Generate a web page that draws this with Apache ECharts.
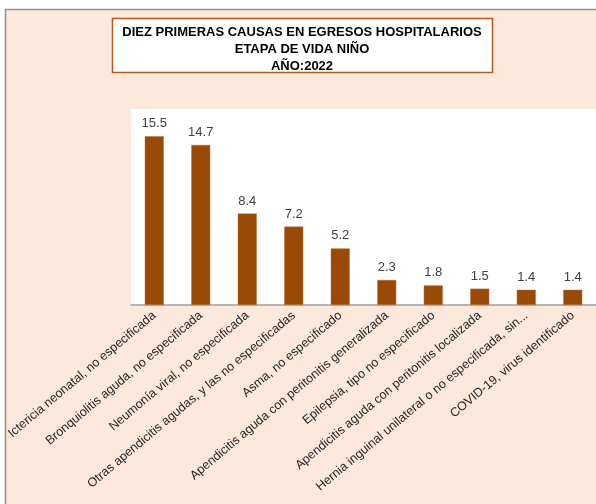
<!DOCTYPE html>
<html>
<head>
<meta charset="utf-8">
<script src="https://cdn.jsdelivr.net/npm/echarts@6/dist/echarts.min.js"></script>
<style>
  html, body { margin: 0; padding: 0; background: #fff; }
  #chart { width: 596px; height: 504px; }
</style>
</head>
<body>
<div id="chart"></div>
<script>
// datos del gráfico
var titleLines = ['DIEZ PRIMERAS CAUSAS EN EGRESOS HOSPITALARIOS', 'ETAPA DE VIDA NIÑO', 'AÑO:2022'];
var causas = [
    'Ictericia neonatal, no especificada',
    'Bronquiolitis aguda, no especificada',
    'Neumonía viral, no especificada',
    'Otras apendicitis agudas, y las no especificadas',
    'Asma, no especificado',
    'Apendicitis aguda con peritonitis generalizada',
    'Epilepsia, tipo no especificado',
    'Apendicitis aguda con peritonitis localizada',
    'Hernia inguinal unilateral o no especificada, sin...',
    'COVID-19, virus identificado'
];
var porcentajes = [15.5, 14.7, 8.4, 7.2, 5.2, 2.3, 1.8, 1.5, 1.4, 1.4];

var chart = echarts.init(document.getElementById('chart'));

chart.setOption({
    backgroundColor: '#FCE9DB',
    animation: false,
    title: {
        text: titleLines.join('\n'),
        left: 302,
        top: 24,
        textAlign: 'center',
        padding: 0,
        textStyle: {
            fontFamily: 'Liberation Sans',
            fontWeight: 'bold',
            fontSize: 13,
            lineHeight: 16.8,
            color: '#000',
            align: 'center'
        }
    },
    graphic: [
        // bordes del marco
        { type: 'rect', z: 100, shape: { x: 0, y: 0, width: 596, height: 9 }, style: { fill: '#fff' } },
        { type: 'rect', z: 100, shape: { x: 0, y: 0, width: 5, height: 504 }, style: { fill: '#fff' } },
        { type: 'line', z: 101, shape: { x1: 5, y1: 9.5, x2: 596, y2: 9.5 }, style: { stroke: '#8f8f8f', lineWidth: 1.5 } },
        { type: 'line', z: 101, shape: { x1: 5.5, y1: 9, x2: 5.5, y2: 504 }, style: { stroke: '#8f8f8f', lineWidth: 1.5 } },
        // caja del título
        { type: 'rect', z: -1, shape: { x: 112.5, y: 18.5, width: 380, height: 54 },
          style: { fill: '#fff', stroke: '#B35A1F', lineWidth: 1.5 } }
    ],
    grid: {
        left: 131,
        top: 109,
        width: 469,
        height: 196,
        show: true,
        backgroundColor: '#fff',
        borderWidth: 0
    },
    xAxis: {
        type: 'category',
        data: causas,
        axisLine: { lineStyle: { color: '#A0A0A0', width: 1.5 } },
        axisTick: { show: false },
        axisLabel: {
            rotate: 40,
            interval: 0,
            margin: 9,
            fontFamily: 'Liberation Sans',
            fontSize: 12.5,
            color: '#262626'
        }
    },
    yAxis: {
        type: 'value',
        min: 0,
        max: 18,
        show: false,
        splitLine: { show: false }
    },
    series: [{
        type: 'bar',
        data: porcentajes,
        barWidth: 19,
        itemStyle: { color: '#9A4A07', borderColor: '#B8713A', borderWidth: 0.5 },
        label: {
            show: true,
            position: 'top',
            distance: 6,
            fontFamily: 'Liberation Sans',
            fontSize: 13,
            color: '#404040',
            formatter: function (p) { return p.value.toFixed(1); }
        }
    }]
});
</script>
</body>
</html>
